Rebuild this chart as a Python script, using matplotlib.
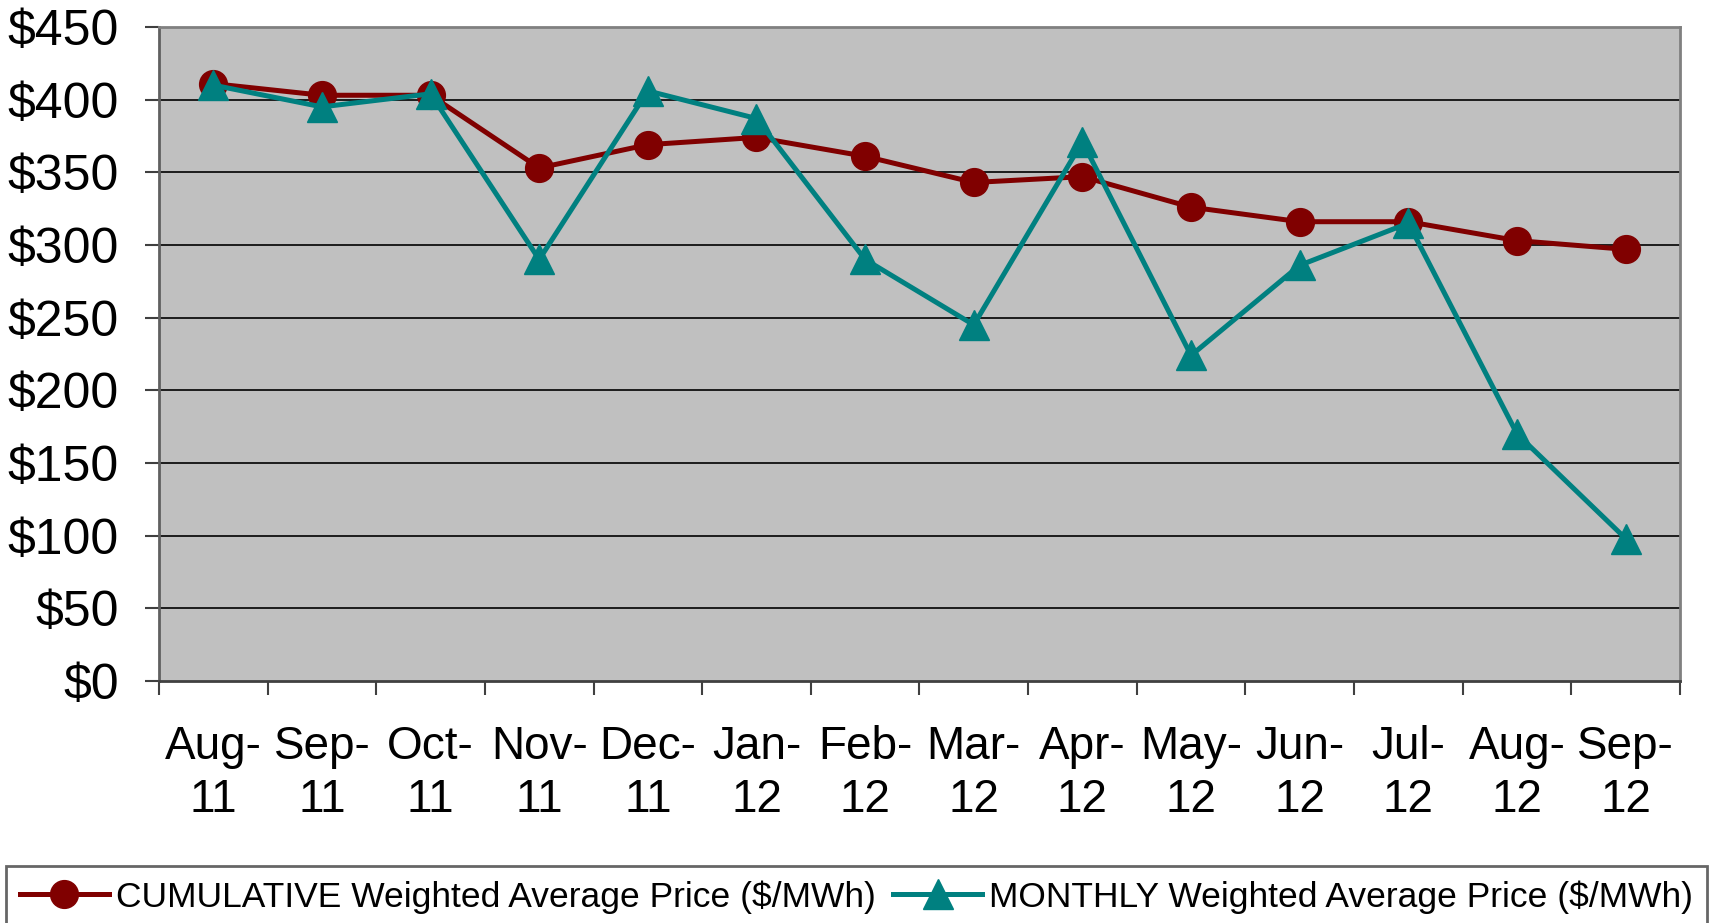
import matplotlib
matplotlib.use('Agg')
import matplotlib.pyplot as plt

plt.rcParams['font.family'] = ['Liberation Sans', 'DejaVu Sans']

# data
months = ['Aug-\n11', 'Sep-\n11', 'Oct-\n11', 'Nov-\n11', 'Dec-\n11', 'Jan-\n12', 'Feb-\n12',
          'Mar-\n12', 'Apr-\n12', 'May-\n12', 'Jun-\n12', 'Jul-\n12', 'Aug-\n12', 'Sep-\n12']
cumulative = [411, 403, 403, 353, 369, 374, 361, 343, 347, 326, 316, 316, 303, 297]
monthly = [410, 395, 404, 290, 406, 387, 290, 245, 371, 224, 286, 315, 170, 98]
y_ticks = [0, 50, 100, 150, 200, 250, 300, 350, 400, 450]
y_labels = ['$' + str(v) for v in y_ticks]

fig = plt.figure(figsize=(17.22, 9.23), dpi=100)
ax = fig.add_axes([0.0923, 0.2622, 0.8833, 0.7086])
ax.set_facecolor('#c0c0c0')

x = list(range(len(months)))
ax.plot(x, cumulative, color='#800000', lw=3.6, marker='o', ms=20,
        label='CUMULATIVE Weighted Average Price ($/MWh)', zorder=3)
ax.plot(x, monthly, color='#008080', lw=3.6, marker='^', ms=21,
        label='MONTHLY Weighted Average Price ($/MWh)', zorder=4)

ax.set_xlim(-0.5, len(months) - 0.5)
ax.set_ylim(0, 450)

# gridlines
for v in y_ticks[1:-1]:
    ax.axhline(v, color='black', lw=1.2, zorder=1)

for s in ax.spines.values():
    s.set_color('#808080')
    s.set_linewidth(2)
ax.spines['bottom'].set_color('#404040')
ax.spines['left'].set_color('#606060')

ax.set_yticks(y_ticks)
ax.set_yticklabels(y_labels, fontsize=36)
ax.tick_params(axis='y', length=10, width=1.5, color='#404040', pad=19)

ax.set_xticks(x)
ax.set_xticklabels(months, fontsize=33, linespacing=1.25)
ax.tick_params(axis='x', which='major', length=0, pad=32)
ax.set_xticks([i - 0.5 for i in range(len(months) + 1)], minor=True)
ax.tick_params(axis='x', which='minor', length=10, width=1.5, color='#404040')

leg = fig.legend(loc='upper left', bbox_to_anchor=(6 / 1722, 1 - 866 / 923),
                 ncol=2, fontsize=25.5, frameon=True, fancybox=False,
                 handlelength=2.5, handletextpad=0.2, columnspacing=0.5,
                 borderpad=0.4, borderaxespad=0)
leg.get_frame().set_edgecolor('#404040')
leg.get_frame().set_linewidth(2)

fig.savefig('out.png', dpi=100)
